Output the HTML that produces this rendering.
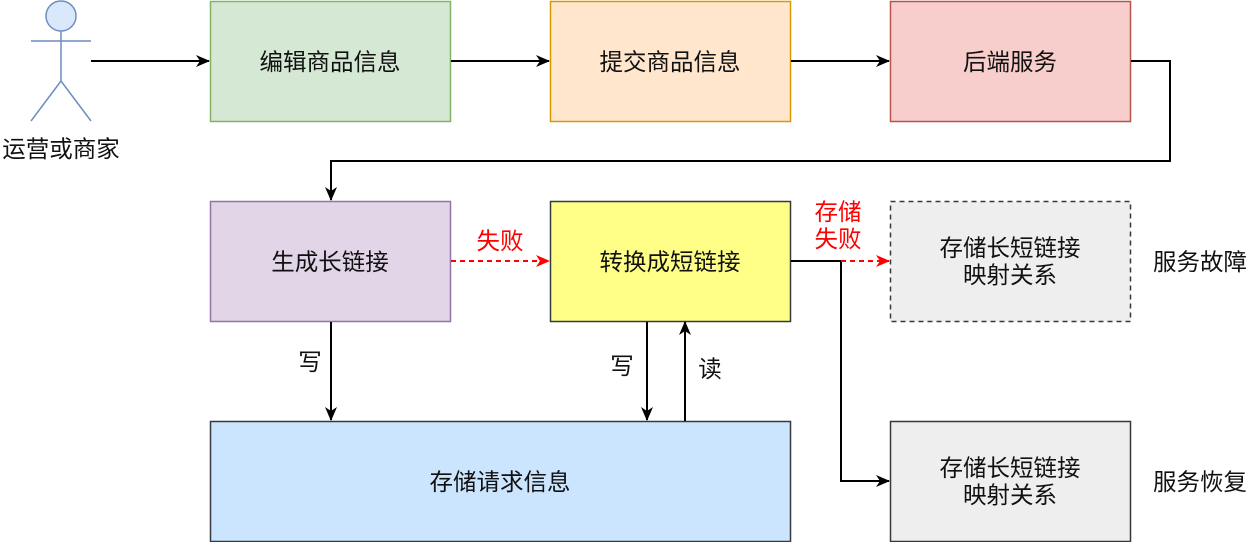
<!DOCTYPE html>
<html><head><meta charset="utf-8"><style>
body{margin:0;background:#fff;width:1252px;height:542px;overflow:hidden}
svg text{font-family:"Liberation Sans","Noto Sans CJK SC",sans-serif;font-size:23.5px;fill:#111}
</style></head><body>
<svg width="1252" height="542" xmlns="http://www.w3.org/2000/svg">
<defs>
<marker id="a" markerWidth="14" markerHeight="14" refX="13" refY="7" orient="auto" markerUnits="userSpaceOnUse"><path d="M0,1 L14,7 L0,13 L4,7 z" fill="#000"/></marker>
<marker id="r" markerWidth="14" markerHeight="14" refX="13" refY="7" orient="auto" markerUnits="userSpaceOnUse"><path d="M0,1 L14,7 L0,13 L4,7 z" fill="#f00"/></marker>
</defs>
<g stroke-width="1.5">
<rect x="210.5" y="1.5" width="240" height="120" fill="#d5e8d4" stroke="#82b366"/>
<rect x="550.5" y="1.5" width="240" height="120" fill="#ffe6cc" stroke="#d79b00"/>
<rect x="890.5" y="1.5" width="240" height="120" fill="#f8cecc" stroke="#b85450"/>
<rect x="210.5" y="201.5" width="240" height="120" fill="#e1d5e7" stroke="#9673a6"/>
<rect x="550.5" y="201.5" width="240" height="120" fill="#ffff88" stroke="#36393d"/>
<rect x="890.5" y="201.5" width="240" height="120" fill="#eeeeee" stroke="#36393d" stroke-dasharray="5,4"/>
<rect x="210.5" y="421.5" width="580" height="120" fill="#cce5ff" stroke="#36393d"/>
<rect x="890.5" y="421.5" width="240" height="120" fill="#eeeeee" stroke="#36393d"/>
</g>
<g stroke="#6c8ebf" stroke-width="1.5" fill="none">
<circle cx="61" cy="16" r="15" fill="#dae8fc"/>
<line x1="61" y1="31" x2="61" y2="81"/>
<line x1="31" y1="41" x2="91" y2="41"/>
<line x1="61" y1="81" x2="31" y2="121"/>
<line x1="61" y1="81" x2="91" y2="121"/>
</g>
<g stroke="#000" stroke-width="2" fill="none">
<line x1="91" y1="61" x2="209" y2="61" marker-end="url(#a)"/>
<line x1="451" y1="61" x2="549" y2="61" marker-end="url(#a)"/>
<line x1="791" y1="61" x2="889" y2="61" marker-end="url(#a)"/>
<polyline points="1131,61 1170,61 1170,161 331,161 331,200" marker-end="url(#a)"/>
<line x1="331" y1="322" x2="331" y2="420" marker-end="url(#a)"/>
<line x1="647" y1="322" x2="647" y2="420" marker-end="url(#a)"/>
<line x1="685" y1="421" x2="685" y2="322" marker-end="url(#a)"/>
<polyline points="791,261 841,261 841,481 889,481" marker-end="url(#a)"/>
</g>
<g stroke="#f00" stroke-width="2" stroke-dasharray="5,4" fill="none">
<line x1="451" y1="261" x2="549" y2="261" marker-end="url(#r)"/>
<line x1="841" y1="261" x2="889" y2="261" marker-end="url(#r)"/>
</g>
<g text-anchor="middle">
<text x="330" y="70">编辑商品信息</text>
<text x="670" y="70">提交商品信息</text>
<text x="1010" y="70">后端服务</text>
<text x="330" y="270">生成长链接</text>
<text x="670" y="270">转换成短链接</text>
<text x="1010" y="256">存储长短链接</text>
<text x="1010" y="283">映射关系</text>
<text x="500" y="490">存储请求信息</text>
<text x="1010" y="476">存储长短链接</text>
<text x="1010" y="503">映射关系</text>
<text x="61" y="157">运营或商家</text>
<text x="1200" y="270">服务故障</text>
<text x="1200" y="490">服务恢复</text>
<text x="310" y="370">写</text>
<text x="622" y="374">写</text>
<text x="710" y="377">读</text>
<text x="500" y="249" style="fill:#f00">失败</text>
<text x="838" y="220" style="fill:#f00">存储</text>
<text x="838" y="247" style="fill:#f00">失败</text>
</g>
</svg>
</body></html>
